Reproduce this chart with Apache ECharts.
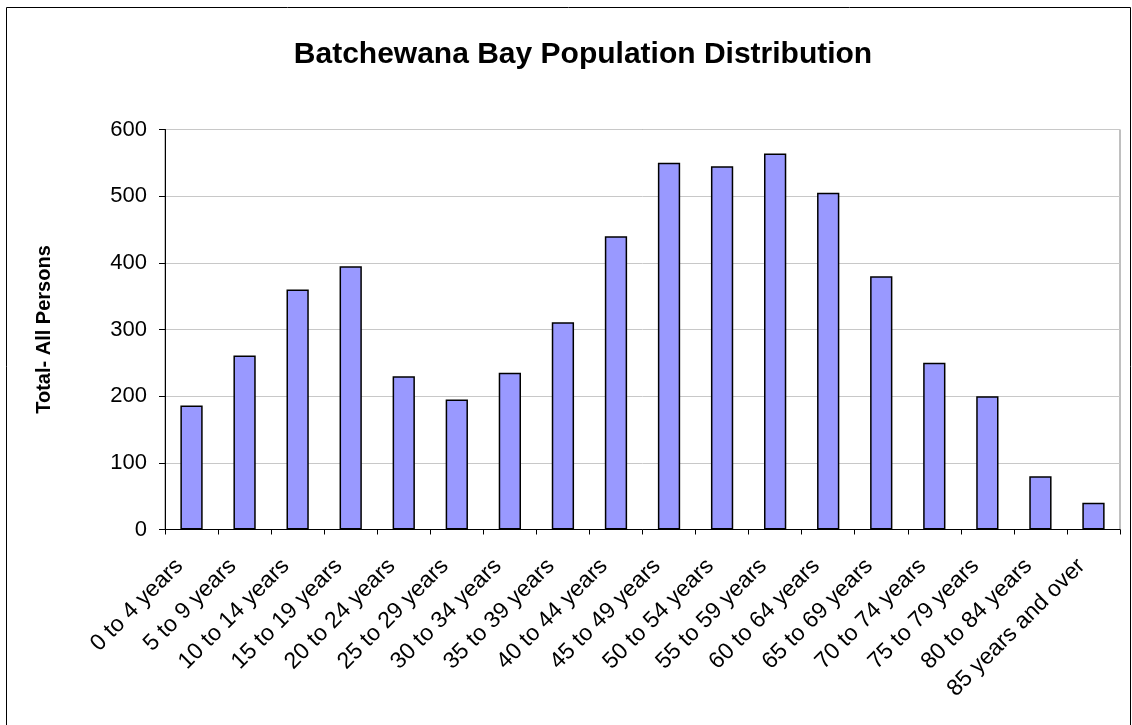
<!DOCTYPE html>
<html>
<head>
<meta charset="utf-8">
<script src="https://cdn.jsdelivr.net/npm/echarts@6/dist/echarts.min.js"></script>
<style>
html, body { margin: 0; padding: 0; background: #fff; }
#chart { width: 1132px; height: 725px; }
</style>
</head>
<body>
<div id="chart"></div>
<script>
// age groups
var ageGroups = ['0 to 4 years', '5 to 9 years', '10 to 14 years', '15 to 19 years',
    '20 to 24 years', '25 to 29 years', '30 to 34 years', '35 to 39 years',
    '40 to 44 years', '45 to 49 years', '50 to 54 years', '55 to 59 years',
    '60 to 64 years', '65 to 69 years', '70 to 74 years', '75 to 79 years',
    '80 to 84 years', '85 years and over'];
// Total - all persons
var persons = [186, 261, 360, 395, 230, 195, 235, 311, 440, 550, 545, 564, 505, 380, 250, 200, 80, 40];
var yTicks = [0, 100, 200, 300, 400, 500, 600];

(function(){
var chart = echarts.init(document.getElementById('chart'));

var option = {
    backgroundColor: '#fff',
    animation: false,
    textStyle: { fontFamily: 'Liberation Sans, Arial, sans-serif' },
    title: {
        text: 'Batchewana Bay Population Distribution',
        left: 578,
        textAlign: 'center',
        top: 35,
        textStyle: { fontSize: 30, fontWeight: 'bold', color: '#000', fontFamily: 'Liberation Sans, Arial, sans-serif' }
    },
    graphic: [
        {
            type: 'rect',
            shape: { x: 6.5, y: 7.5, width: 1124, height: 730 },
            style: { fill: 'none', stroke: '#000', lineWidth: 1 },
            silent: true
        },
        {   // plot area border (top/right)
            type: 'rect',
            shape: { x: 165, y: 129.5, width: 955, height: 400 },
            style: { fill: 'none', stroke: '#808080', lineWidth: 1 },
            silent: true,
            z: -1
        }
    ],
    grid: {
        left: 165,
        right: 12,
        top: 129.5,
        height: 400,
        containLabel: false
    },
    xAxis: {
        type: 'category',
        data: ageGroups,
        axisLine: { lineStyle: { color: '#000', width: 1 } },
        axisTick: { show: true, length: 5, lineStyle: { color: '#000' } },
        axisLabel: {
            interval: 0,
            rotate: 45,
            fontSize: 23,
            color: '#000',
            margin: 21,
            padding: [0, 17, 0, 0]
        }
    },
    yAxis: {
        type: 'value',
        min: yTicks[0],
        max: yTicks[yTicks.length - 1],
        interval: 100,
        name: 'Total- All Persons',
        nameLocation: 'middle',
        nameGap: 111,
        nameTextStyle: { fontSize: 20, fontWeight: 'bold', color: '#000' },
        axisLine: { show: true, lineStyle: { color: '#000', width: 1 } },
        axisTick: { show: true, length: 6, inside: false, lineStyle: { color: '#000' } },
        axisLabel: { fontSize: 22, color: '#000', margin: 18 },
        splitLine: { show: true, lineStyle: { color: '#c8c8c8', width: 1 } }
    },
    series: [
        {
            name: 'Total- All Persons',
            type: 'bar',
            barWidth: '42%',
            data: persons,
            itemStyle: {
                color: '#9999ff',
                borderColor: '#000',
                borderWidth: 1.5
            }
        }
    ]
};

chart.setOption(option);
})();
</script>
</body>
</html>
